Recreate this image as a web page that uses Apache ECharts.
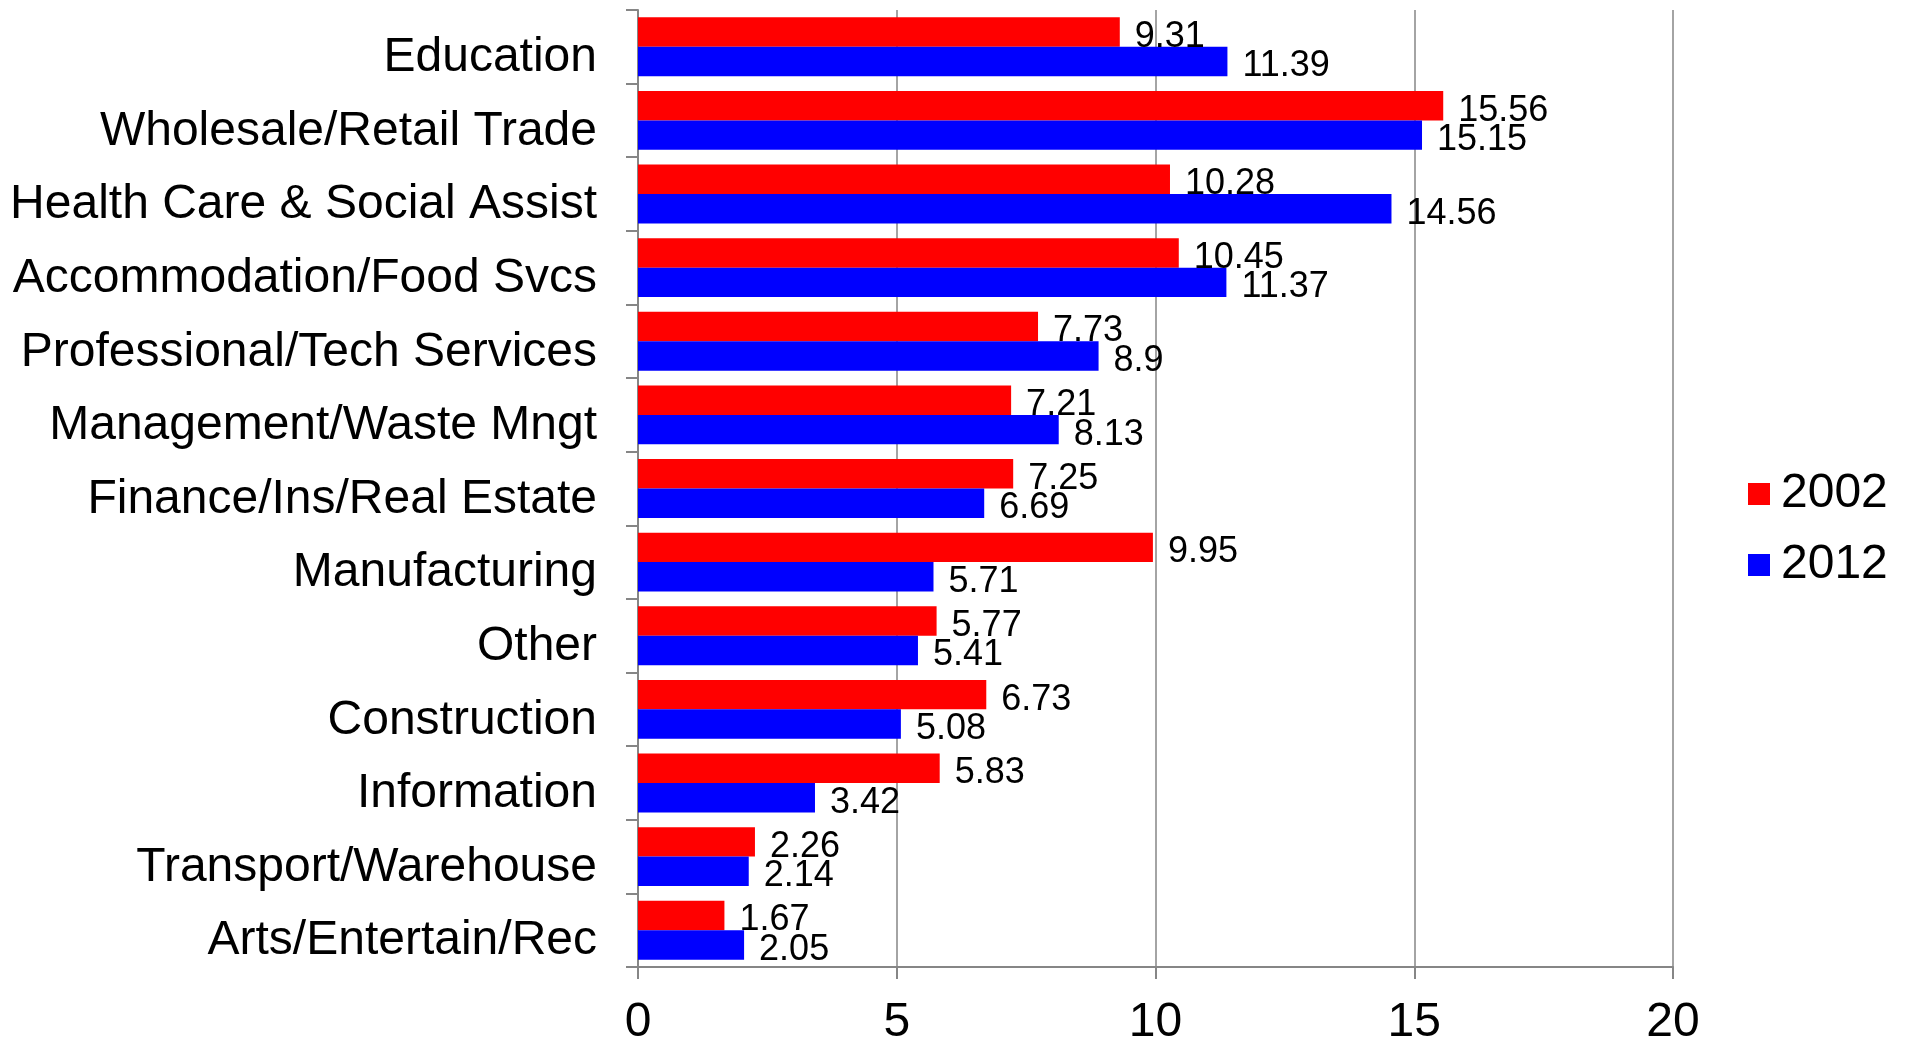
<!DOCTYPE html>
<html lang="en">
<head>
    <meta charset="UTF-8">
    <title>Industry share 2002 vs 2012</title>
    <script type="text/javascript" src="https://cdn.jsdelivr.net/npm/echarts@6/dist/echarts.min.js"></script>
    <style>
        html, body { margin: 0; padding: 0; background: #ffffff; overflow: hidden; }
        #chart { width: 1911px; height: 1047px; }
    </style>
</head>
<body>
    <div id="chart"></div>
<script type="text/javascript">
    // categories, top to bottom
    var categories = ['Education', 'Wholesale/Retail Trade', 'Health Care & Social Assist',
        'Accommodation/Food Svcs', 'Professional/Tech Services', 'Management/Waste Mngt',
        'Finance/Ins/Real Estate', 'Manufacturing', 'Other', 'Construction', 'Information',
        'Transport/Warehouse', 'Arts/Entertain/Rec'];
    var seriesNames = ['2002', '2012'];
    var values2002 = [9.31, 15.56, 10.28, 10.45, 7.73, 7.21, 7.25, 9.95, 5.77, 6.73, 5.83, 2.26, 1.67];
    var values2012 = [11.39, 15.15, 14.56, 11.37, 8.9, 8.13, 6.69, 5.71, 5.41, 5.08, 3.42, 2.14, 2.05];
    var xMin = 0, xMax = 20, xStep = 5;

    var FONT = 'Liberation Sans, Arial, sans-serif';
    var AXIS_GREY = '#868686';

    var chart = echarts.init(document.getElementById('chart'));

    function barSeries(name, data, color) {
        return {
            name: name,
            type: 'bar',
            data: data,
            barWidth: '40%',
            barGap: '0%',
            itemStyle: { color: color },
            label: {
                show: true,
                position: 'right',
                distance: 15,
                offset: [0, 5],
                color: '#000',
                fontFamily: FONT,
                fontSize: 36
            }
        };
    }

    var option = {
        backgroundColor: '#fff',
        animation: false,
        grid: { left: 638, right: 238, top: 10, bottom: 78, containLabel: false },
        legend: {
            orient: 'vertical',
            left: 1743,
            top: 465,
            icon: 'rect',
            itemWidth: 22,
            itemHeight: 22,
            itemGap: 23,
            data: seriesNames,
            textStyle: { fontFamily: FONT, fontSize: 48, lineHeight: 48, color: '#000', padding: [0, 0, 0, 6] }
        },
        xAxis: {
            type: 'value',
            min: xMin,
            max: xMax,
            interval: xStep,
            axisLine: { show: true, lineStyle: { color: AXIS_GREY, width: 2 } },
            axisTick: { show: true, length: 12, lineStyle: { color: AXIS_GREY, width: 2 } },
            axisLabel: { color: '#000', fontFamily: FONT, fontSize: 48, margin: 32 },
            splitLine: { show: true, lineStyle: { color: AXIS_GREY, width: 1.5 } }
        },
        yAxis: {
            type: 'category',
            data: categories,
            inverse: true,
            axisLine: { show: true, lineStyle: { color: AXIS_GREY, width: 2 } },
            axisTick: { show: true, length: 12, lineStyle: { color: AXIS_GREY, width: 2 } },
            axisLabel: {
                color: '#000', fontFamily: FONT, fontSize: 48, margin: 41,
                verticalAlign: 'top', lineHeight: 22
            },
            splitLine: { show: false }
        },
        series: [
            barSeries(seriesNames[0], values2002, '#ff0000'),
            barSeries(seriesNames[1], values2012, '#0000ff')
        ]
    };
    chart.setOption(option);
</script>
</body>
</html>
